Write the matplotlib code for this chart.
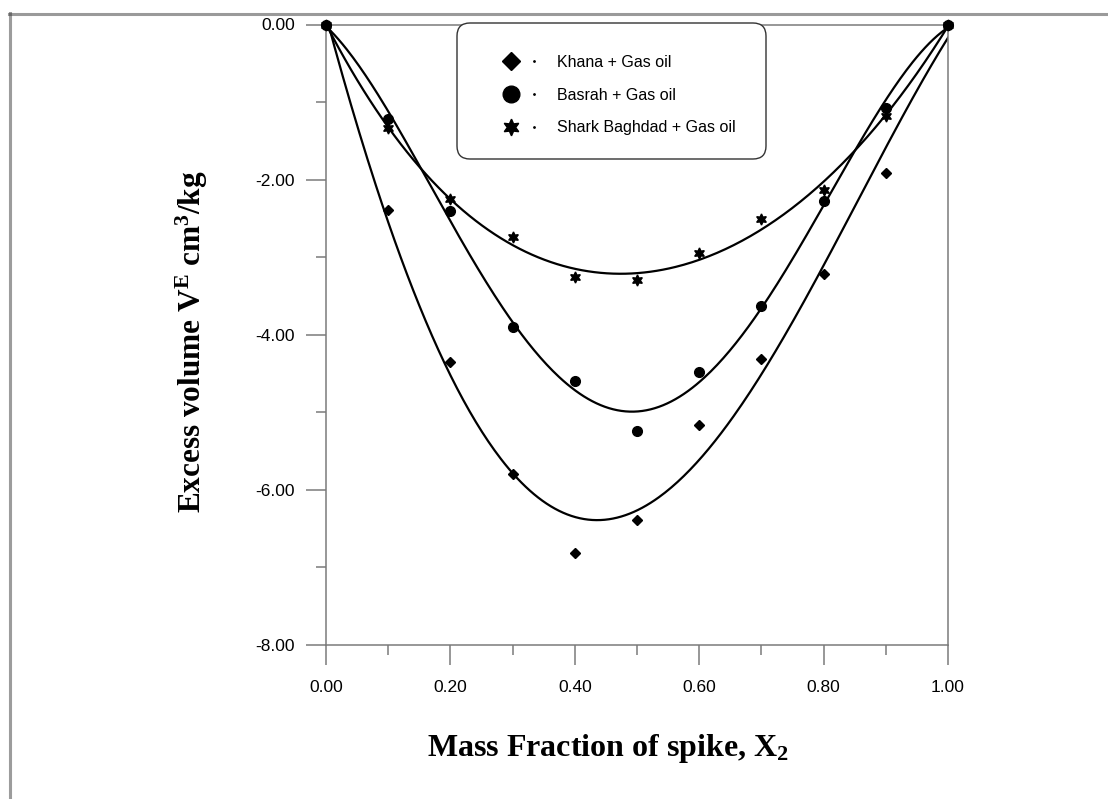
import numpy as np
import matplotlib.pyplot as plt
from matplotlib.lines import Line2D
from matplotlib.patches import FancyBboxPatch
from matplotlib.legend_handler import HandlerTuple

# Excess volume data
mass_fraction = [0.0, 0.1, 0.2, 0.3, 0.4, 0.5, 0.6, 0.7, 0.8, 0.9, 1.0]
khana = [0.0, -2.39, -4.35, -5.80, -6.81, -6.39, -5.16, -4.31, -3.22, -1.91, 0.0]
basrah = [0.0, -1.22, -2.40, -3.90, -4.60, -5.24, -4.48, -3.63, -2.28, -1.08, 0.0]
shark = [0.0, -1.33, -2.25, -2.74, -3.26, -3.30, -2.95, -2.51, -2.14, -1.18, 0.0]

series_labels = ['Khana + Gas oil', 'Basrah + Gas oil', 'Shark Baghdad + Gas oil']
x_ticks = [0.0, 0.2, 0.4, 0.6, 0.8, 1.0]
y_ticks = [0.0, -2.0, -4.0, -6.0, -8.0]

STAR = (6, 1, 0)
SPINE_GRAY = '#7a7a7a'
FIT_DEGREE = 4

plt.rcParams['mathtext.fontset'] = 'custom'
plt.rcParams['mathtext.rm'] = 'Liberation Serif:bold'
plt.rcParams['mathtext.it'] = 'Liberation Serif:bold'
plt.rcParams['lines.scale_dashes'] = False

fig = plt.figure(figsize=(11.08, 7.99), dpi=100)
ax = fig.add_axes([326 / 1108, (799 - 645) / 799, 622 / 1108, 620.5 / 799])

# page border bits (top rule and dotted left margin)
fig.add_artist(Line2D([9 / 1108, 1.0], [1 - 13.5 / 799, 1 - 13.5 / 799],
                      transform=fig.transFigure, color='#9a9a9a', lw=2.2))
fig.add_artist(Line2D([9.5 / 1108, 9.5 / 1108], [0.0, 1 - 12 / 799],
                      transform=fig.transFigure, color='#3a3a3a', lw=2.2,
                      dashes=[0.72, 0.72]))

# polynomial regression curves
x_fit = np.linspace(0, 1, 300)
for values in (khana, basrah, shark):
    coeffs = np.polyfit(mass_fraction, values, FIT_DEGREE)
    ax.plot(x_fit, np.polyval(coeffs, x_fit), color='black', lw=1.6, zorder=2)

# data points
ax.plot(mass_fraction, khana, ls='none', marker='D', ms=5.2, color='black',
        clip_on=False, zorder=3)
ax.plot(mass_fraction, shark, ls='none', marker=STAR, ms=8, color='black',
        clip_on=False, zorder=3)
ax.plot(mass_fraction, basrah, ls='none', marker='o', ms=7, color='black',
        clip_on=False, zorder=4)

ax.set_xlim(0, 1)
ax.set_ylim(-8, 0)
ax.set_xticks(x_ticks)
ax.set_yticks(y_ticks)
ax.set_xticks(np.arange(0.1, 1.0, 0.2), minor=True)
ax.set_yticks([-1, -3, -5, -7], minor=True)
ax.xaxis.set_major_formatter(plt.FormatStrFormatter('%.2f'))
ax.yaxis.set_major_formatter(plt.FormatStrFormatter('%.2f'))

for spine in ax.spines.values():
    spine.set_color(SPINE_GRAY)
    spine.set_linewidth(1.1)

ax.tick_params(which='major', direction='out', length=14.4, width=1.1,
               color=SPINE_GRAY, labelsize=12.5, labelfontfamily='Liberation Sans')
ax.tick_params(axis='y', which='major', pad=8)
ax.tick_params(axis='x', which='major', pad=11)
ax.tick_params(which='minor', direction='out', length=7.2, width=1.1,
               color=SPINE_GRAY)

ax.set_xlabel(r'Mass Fraction of spike, X$_{\mathrm{2}}$', fontsize=23,
              family='Liberation Serif', weight='bold')
ax.xaxis.set_label_coords(0.454, -0.141)
ax.set_ylabel(r'Excess volume V$^{\mathrm{E}}$ cm$^{\mathrm{3}}$/kg', fontsize=22.5,
              family='Liberation Serif', weight='bold')
ax.yaxis.set_label_coords(-0.187, 0.489)

# rounded legend frame
frame = FancyBboxPatch((457, 799 - 159), 309, 136,
                       boxstyle='round,pad=0,rounding_size=13',
                       transform=None, facecolor='white', edgecolor='#333333',
                       lw=1.0, zorder=5)
fig.add_artist(frame)

dot = Line2D([], [], ls='none', marker='o', ms=1, color='black')
handles = [
    (Line2D([], [], ls='none', marker='D', ms=9.5, color='black'), dot),
    (Line2D([], [], ls='none', marker='o', ms=12, color='black'), dot),
    (Line2D([], [], ls='none', marker=STAR, ms=12, color='black'), dot),
]
leg = fig.legend(handles, series_labels, loc='upper left',
                 bbox_to_anchor=(500 / 1108, 1 - 55 / 799),
                 frameon=False, borderpad=0, borderaxespad=0,
                 handlelength=2.8, handletextpad=0.75, labelspacing=1.1,
                 prop={'family': 'Liberation Sans', 'size': 11.5},
                 handler_map={tuple: HandlerTuple(ndivide=None, pad=0)})
leg.set_zorder(6)

fig.savefig('out.png', dpi=100)
